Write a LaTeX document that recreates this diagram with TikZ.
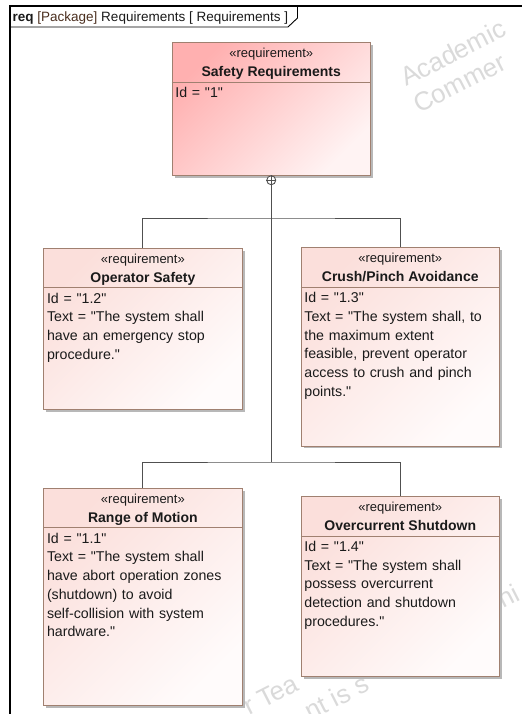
\documentclass[tikz,border=0pt]{standalone}
\usepackage{fontspec}
\setmainfont{Liberation Sans}[Ligatures=TeXOff]
\usetikzlibrary{shadows}

\definecolor{boxedge}{HTML}{A08070}
\definecolor{parenttl}{HTML}{FFB0B0}
\definecolor{parentbr}{HTML}{FFF3F3}
\definecolor{childtl}{HTML}{FBDFDB}
\definecolor{childbr}{HTML}{FFFBFB}
\definecolor{linkgray}{HTML}{505050}
\definecolor{ink}{HTML}{1A1A1A}
\definecolor{kindink}{HTML}{4A2E1E}
\definecolor{wmark}{HTML}{DADADA}

\tikzset{
  reqbox/.style={draw=boxedge, line width=0.8pt, rectangle, inner sep=0pt,
    anchor=north west,
    drop shadow={shadow xshift=2.5pt, shadow yshift=-2.5pt, fill=black!28, opacity=1}},
  % y axis points down here, so angle 45 puts the strong tint at the top left
  parentfill/.style={left color=parenttl, right color=parentbr, shading angle=45},
  childfill/.style={left color=childtl, right color=childbr, shading angle=45},
  sepline/.style={draw=boxedge, line width=0.8pt},
  stereo/.style={inner sep=0pt, anchor=base, text=ink, font=\fontsize{13}{15}\selectfont},
  reqtitle/.style={inner sep=0pt, anchor=base, text=ink, font=\bfseries\fontsize{14}{16}\selectfont},
  bodytext/.style={inner sep=0pt, anchor=base west, text=ink, align=left,
    text width=192pt, font=\fontsize{14.2}{18.7}\selectfont},
  link/.style={draw=linkgray, line width=0.9pt},
  wm/.style={text=wmark, rotate=27, inner sep=0pt, anchor=base west,
    font=\fontsize{26}{28}\selectfont},
}

% one requirement block: name, x, y, width, height, fill style, title, body
\newcommand\reqblock[8]{%
  \node[reqbox, #6, minimum width=#4pt, minimum height=#5pt] (#1) at (#2,#3) {};
  \draw[sepline] ([yshift=-40pt]#1.north west) -- ([yshift=-40pt]#1.north east);
  \node[stereo] (#1-st) at ([yshift=-15.5pt]#1.north) {«requirement»};
  \node[reqtitle] (#1-ti) at ([yshift=-34.5pt]#1.north) {#7};
  \node[bodytext] (#1-tx) at ([xshift=3.5pt, yshift=-55.5pt]#1.north west) {#8};
}

\begin{document}
\begin{tikzpicture}[x=1pt, y=-1pt]
  \useasboundingbox[fill=white] (0,0) rectangle (522,714);

  % watermark fragments in the background
  \node[wm] (wm1) at (406,87) {Academic};
  \node[wm] (wm2) at (419,114) {Commer};
  \node[wm] (wm3) at (249,716) {r Tea};
  \node[wm] (wm4) at (310,721) {nt is s};
  \node[wm] (wm5) at (503,609) {hi};

  % diagram frame and its name tab
  \draw[line width=2pt, black] (9.5,714) -- (9.5,6) -- (522,6);
  \draw[line width=0.9pt, black] (9.5,27) -- (288,27) -- (297.5,18) -- (297.5,6);
  \node[inner sep=0pt, anchor=base west, font=\fontsize{13.5}{15}\selectfont, text=ink]
    (frame) at (12.5,21.5) {\textbf{req} \textcolor{kindink}{[Package]} Requirements [ Requirements ]};

  % requirement blocks
  \reqblock{sr}{171.7}{42.3}{198.3}{132.7}{parentfill}{Safety Requirements}
    {Id = "1"}
  \reqblock{os}{43.3}{247.7}{198.4}{161.3}{childfill}{Operator Safety}
    {Id = "1.2"\\Text = "The system shall\\have an emergency stop\\procedure."}
  \reqblock{cp}{300.7}{247.3}{198.3}{198.2}{childfill}{Crush/Pinch Avoidance}
    {Id = "1.3"\\Text = "The system shall, to\\the maximum extent\\feasible, prevent operator\\access to crush and pinch\\points."}
  \reqblock{rm}{43.3}{487.7}{198.4}{217.3}{childfill}{Range of Motion}
    {Id = "1.1"\\Text = "The system shall\\have abort operation zones\\(shutdown) to avoid\\self-collision with system\\hardware."}
  \reqblock{oc}{300.7}{496}{198.3}{180}{childfill}{Overcurrent Shutdown}
    {Id = "1.4"\\Text = "The system shall\\possess overcurrent\\detection and shutdown\\procedures."}

  % containment marker below the parent
  \node[circle, draw=linkgray, line width=0.9pt, fill=white, minimum size=9pt,
        inner sep=0pt, anchor=north] (own) at ([yshift=0.5pt]sr.south) {};
  \draw[link] (own.north) -- (own.south) (own.west) -- (own.east);

  % containment tree
  \coordinate (j1) at (own |- 0,218);
  \coordinate (j2) at (own |- 0,462);
  \draw[link] (own.south) -- (j2);
  \draw[link] (os.north) |- (j1) -| (cp.north);
  \draw[link] (rm.north) |- (j2) -| (oc.north);
\end{tikzpicture}
\end{document}
